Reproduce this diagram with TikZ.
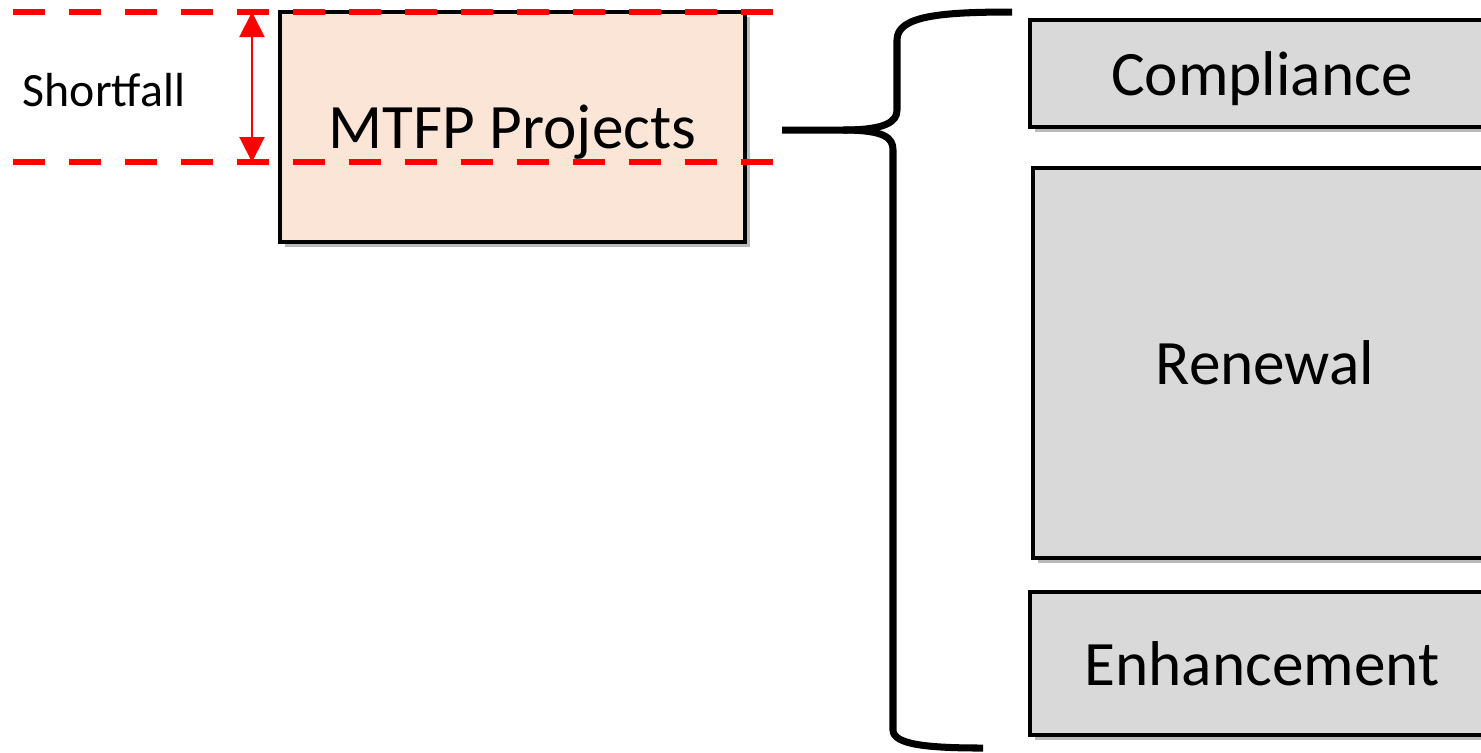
\documentclass[tikz,border=0pt]{standalone}
\usepackage{fontspec}
\setmainfont{Carlito}
\usetikzlibrary{shadows, arrows.meta}
\definecolor{peach}{HTML}{FBE5D6}
\definecolor{boxgray}{HTML}{D9D9D9}
\tikzset{
  partbox/.style={rectangle, draw=black, line width=1.4pt, inner sep=0pt, text depth=0pt,
    drop shadow={shadow xshift=0.05cm, shadow yshift=-0.05cm, fill=black!45, opacity=0.6},
    font=\fontsize{18}{21}\selectfont},
  limit/.style={red, line width=1.45pt, dash pattern=on 3.2mm off 2.4mm}
}
\begin{document}
\begin{tikzpicture}
		\clip (0,0) rectangle (14.81,-7.52);
		\useasboundingbox (0,0) rectangle (14.81,-7.52);
		\def\xr{4.64}
		\node[partbox, fill=peach, minimum width=4.65cm, minimum height=2.30cm] (mtfp) at (5.125,-1.27) {MTFP Projects};
		\node[partbox, fill=boxgray, minimum width=\xr cm, minimum height=1.07cm] (comp) at (12.62,-0.735) {Compliance};
		\node[partbox, fill=boxgray, minimum width=\xr cm, minimum height=3.90cm] (ren) at (12.65,-3.63) {Renewal};
		\node[partbox, fill=boxgray, minimum width=\xr cm, minimum height=1.43cm] (enh) at (12.62,-6.635) {Enhancement};
		\node[font=\fontsize{13.6}{16}\selectfont] (short) at (1.04,-0.90) {Shortfall};
		\coordinate (tl) at (0.13,-0.12);
		\coordinate (tr) at (7.75,-0.12);
		\coordinate (bl) at (0.13,-1.62);
		\coordinate (br) at (7.75,-1.62);
		\coordinate (at) at (2.52,-0.12);
		\coordinate (ab) at (2.52,-1.62);
		\coordinate (bs) at (7.82,-1.30);
		\draw[limit] (tl) -- (tr);
		\draw[limit] (bl) -- (br);
		\draw[red, line width=0.6pt, {Triangle[width=0.25cm,length=0.25cm]}-{Triangle[width=0.25cm,length=0.25cm]}] (at) -- (ab);
		% brace
		\draw[line width=2pt] (bs) -- (8.43,-1.30)
			.. controls (8.85,-1.30) and (8.97,-1.22) .. (8.97,-1.10) -- (8.97,-0.40)
			.. controls (8.97,-0.16) and (9.40,-0.12) .. (10.12,-0.12);
		\draw[line width=2pt] (8.43,-1.30)
			.. controls (8.85,-1.30) and (8.93,-1.38) .. (8.93,-1.50) -- (8.93,-7.30)
			.. controls (8.93,-7.45) and (9.30,-7.48) .. (9.83,-7.48);
	\end{tikzpicture}
\end{document}
